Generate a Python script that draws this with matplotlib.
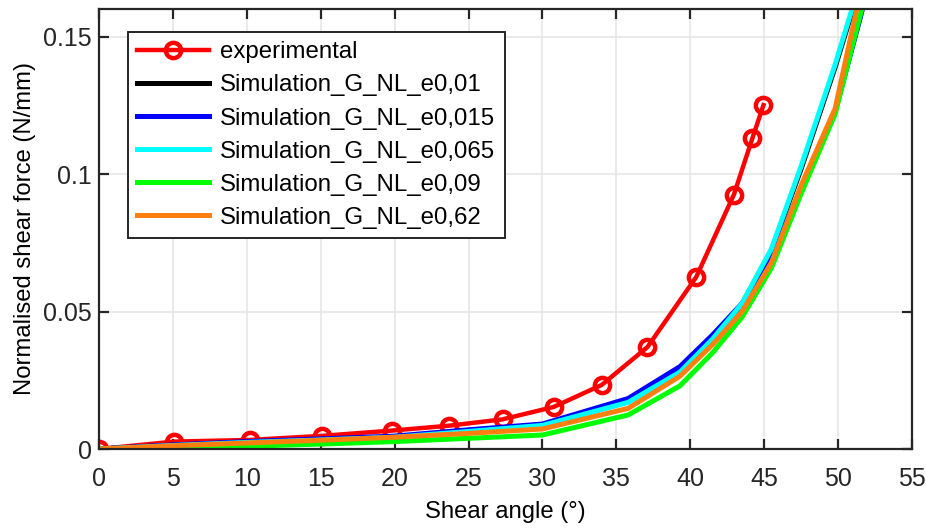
import matplotlib
matplotlib.use("Agg")
import matplotlib.pyplot as plt

plt.rcParams['font.family'] = ['Liberation Sans', 'DejaVu Sans']

# Experimental data
exp_x = [0, 5.1, 10.2, 15.1, 19.8, 23.7, 27.3, 30.75, 34.0, 37.1, 40.4, 42.95, 44.2, 44.95]
exp_y = [0, 0.0027, 0.0033, 0.0048, 0.0067, 0.0085, 0.0108, 0.0153, 0.0233, 0.0371,
         0.0626, 0.0926, 0.1131, 0.1252]

# Simulation data (shared x grid)
sim_x = [0, 5, 10, 15, 20, 25, 30, 35.8, 39.3, 41.5, 43.5, 45.5, 47.5, 49.8, 51.5, 53]
sim_e001 = [0, 0.0014, 0.0025, 0.0034, 0.0044, 0.0065, 0.0087, 0.0172, 0.0282, 0.0402,
            0.0528, 0.0725, 0.1020, 0.1390, 0.1690, 0.1990]
sim_e0015 = [0, 0.0015, 0.0027, 0.0037, 0.0047, 0.0070, 0.0091, 0.0184, 0.0300, 0.0415,
             0.0530, 0.0700, 0.0950, 0.1230, 0.1570, 0.1900]
sim_e0065 = [0, 0.0013, 0.0024, 0.0033, 0.0043, 0.0064, 0.0086, 0.0170, 0.0280, 0.0400,
             0.0530, 0.0730, 0.1030, 0.1400, 0.1700, 0.2000]
sim_e009 = [0, 0.0005, 0.0010, 0.0018, 0.0027, 0.0039, 0.0051, 0.0124, 0.0230, 0.0350,
            0.0480, 0.0660, 0.0930, 0.1220, 0.1580, 0.1900]
sim_e062 = [0, 0.0012, 0.0022, 0.0032, 0.0043, 0.0057, 0.0073, 0.0148, 0.0265, 0.0380,
            0.0500, 0.0680, 0.0960, 0.1240, 0.1660, 0.2000]

labels = ['experimental', 'Simulation_G_NL_e0,01', 'Simulation_G_NL_e0,015',
          'Simulation_G_NL_e0,065', 'Simulation_G_NL_e0,09', 'Simulation_G_NL_e0,62']
xticks = [0, 5, 10, 15, 20, 25, 30, 35, 40, 45, 50, 55]
yticks = [0, 0.05, 0.1, 0.15]
ytick_labels = ['0', '0.05', '0.1', '0.15']

fig = plt.figure(figsize=(9.26, 5.28), dpi=100)
ax = fig.add_axes([0.1069, 0.1496, 0.8780, 0.8334])

ax.plot(exp_x, exp_y, '-o', color='#ff0000', lw=3.2, ms=11, mfc='none', mew=3.2,
        label=labels[0])
sims = [sim_e001, sim_e0015, sim_e0065, sim_e009, sim_e062]
colors = ['#000000', '#0000ff', '#00ffff', '#00ff00', '#ff7f0e']
for ys, c, lab in zip(sims, colors, labels[1:]):
    ax.plot(sim_x, ys, '-', color=c, lw=3.6, label=lab, solid_joinstyle='round')

ax.set_xlim(0, 55)
ax.set_ylim(0, 0.1602)
ax.set_xticks(xticks)
ax.set_yticks(yticks)
ax.set_yticklabels(ytick_labels)
ax.grid(True, color='#e6e6e6', lw=1.2)
ax.set_axisbelow(True)
for s in ax.spines.values():
    s.set_linewidth(1.6)
    s.set_color('#262626')
ax.tick_params(direction='in', top=True, right=True, length=7, width=1.6,
               color='#262626', labelsize=18, labelcolor='#262626')
ax.tick_params(axis='x', pad=13)
ax.tick_params(axis='y', pad=5)
ax.set_xlabel('Shear angle (°)', fontsize=17.2, labelpad=7)
ax.set_ylabel('Normalised shear force (N/mm)', fontsize=17.2, labelpad=5)

leg = ax.legend(loc='upper left', bbox_to_anchor=(0.036, 0.947), borderaxespad=0,
                fontsize=17.3, handlelength=3.0, labelspacing=0.46, fancybox=False,
                framealpha=1, edgecolor='#262626', borderpad=0.38, handletextpad=0.45)
leg.get_frame().set_linewidth(1.4)

fig.savefig('out.png', dpi=100)
